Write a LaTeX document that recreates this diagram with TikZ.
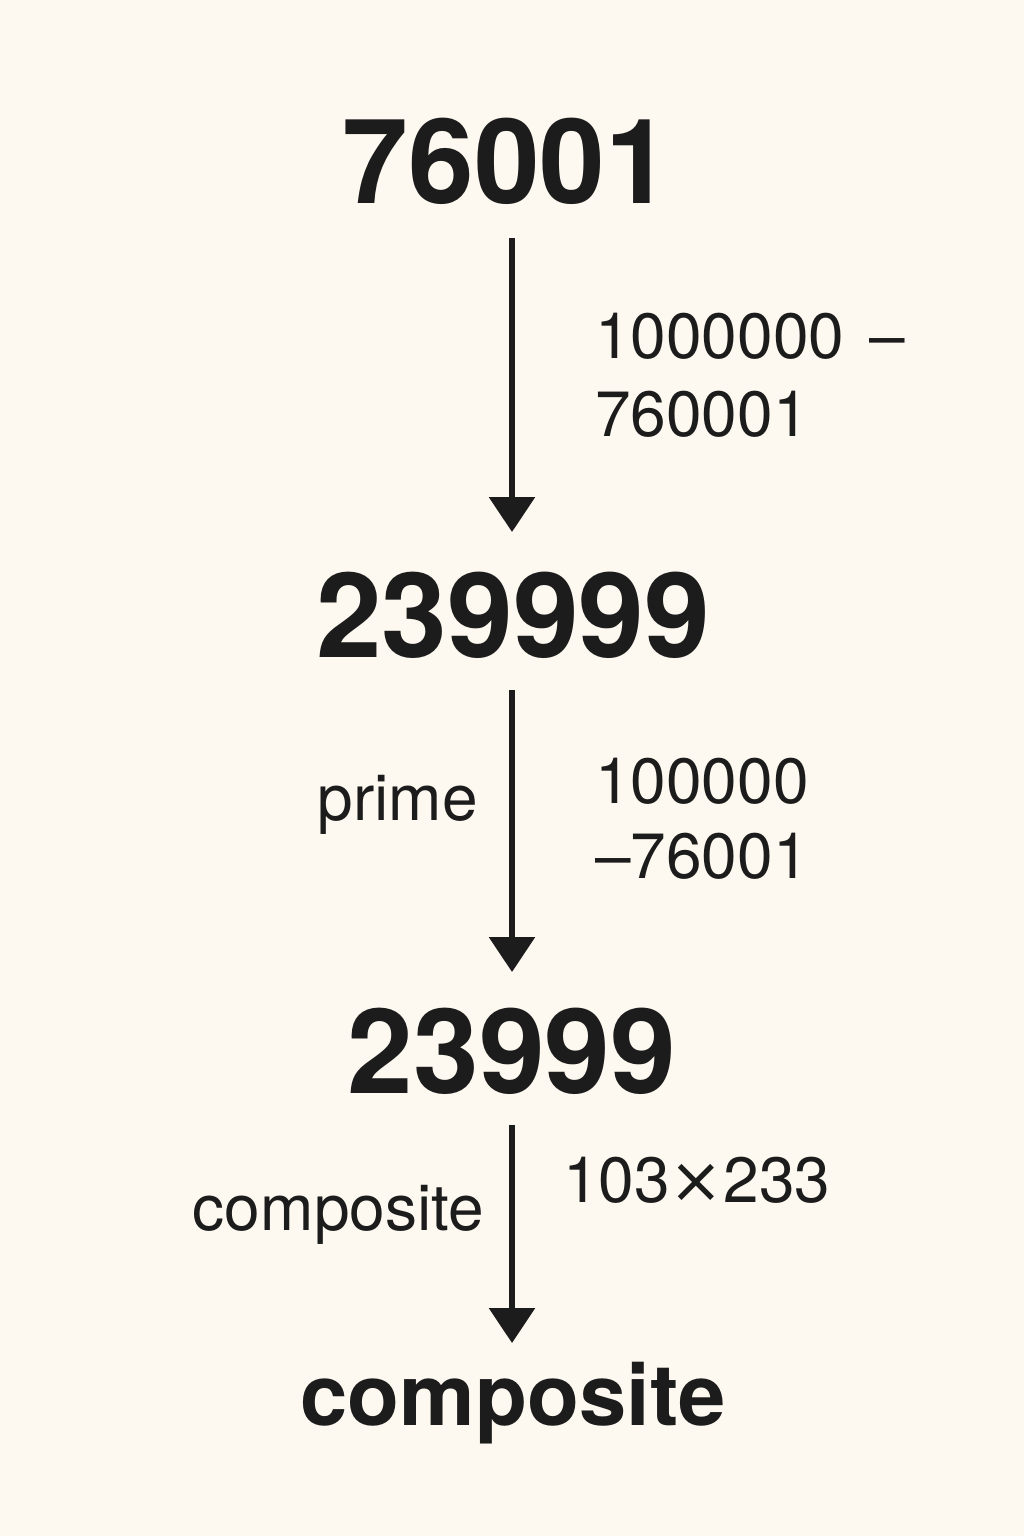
\documentclass[tikz,border=0pt]{standalone}
\usepackage{fontspec}
\setmainfont{TeX Gyre Heros}
\newfontfamily\dvfont{DejaVu Sans}
\usetikzlibrary{arrows.meta}
\definecolor{bg}{HTML}{FDF9F0}
\definecolor{ink}{HTML}{1C1C1C}
\begin{document}
\begin{tikzpicture}[x=1pt,y=1pt,
  big/.style={inner sep=0pt,anchor=base,text=ink,font=\fontsize{118}{118}\selectfont\bfseries},
  last/.style={inner sep=0pt,anchor=base,text=ink,font=\fontsize{85}{85}\selectfont\bfseries},
  lbl/.style={inner sep=0pt,anchor=base west,text=ink,font=\fontsize{64}{64}\selectfont},
  lblr/.style={inner sep=0pt,anchor=base east,text=ink,font=\fontsize{64}{64}\selectfont},
  conn/.style={draw=ink,line width=6pt,-{Triangle[length=35pt,width=45pt]}}]
\fill[bg] (0,0) rectangle (1024,-1536);
\useasboundingbox (0,0) rectangle (1024,-1536);
\node[big] (n1) at (507,-203) {76001};
\node[big] (n2) at (513,-657) {239999};
\node[big] (n3) at (512,-1093) {23999};
\node[last] (n4) at (513,-1425) {composite};
\node[lbl] (l1a) at (595,-358) {1000000\hspace{25pt}–};
\node[lbl] (l1b) at (595,-436) {760001};
\node[lbl] (l2a) at (595,-803) {100000};
\node[lbl] (l2b) at (595,-878) {–76001};
\node[lblr] (p) at (478,-820) {prime};
\node[lblr] (c) at (484,-1230) {composite};
\node[lbl] (f) at (563,-1202) {103{\dvfont ×}233};
\coordinate (s1) at (512,-238);
\coordinate (e1) at (512,-532);
\coordinate (s2) at (512,-690);
\coordinate (e2) at (512,-972);
\coordinate (s3) at (512,-1125);
\coordinate (e3) at (512,-1343);
\draw[conn] (s1) -- (e1);
\draw[conn] (s2) -- (e2);
\draw[conn] (s3) -- (e3);
\end{tikzpicture}
\end{document}
